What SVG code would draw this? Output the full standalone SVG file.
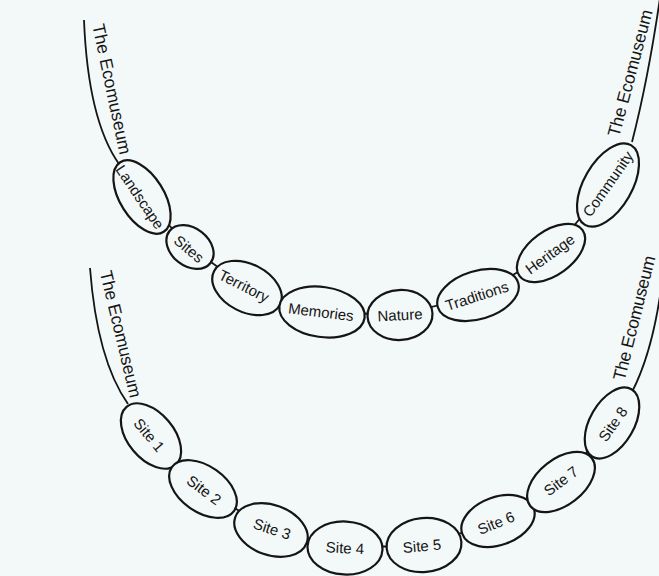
<svg xmlns="http://www.w3.org/2000/svg" width="659" height="576" viewBox="0 0 659 576">
<style>
.bg{fill:#f3f8f8}
.bead{fill:#f3f8f8;stroke:#151515;stroke-width:2.2}
.chain{fill:none;stroke:#151515;stroke-width:1.8}
.lbl{font-family:"Liberation Sans",Arial,sans-serif;font-size:15px;fill:#151515;text-anchor:middle}
.eco{font-family:"Liberation Sans",Arial,sans-serif;font-size:17.5px;fill:#151515;text-anchor:middle}
</style>
<rect class="bg" x="0" y="0" width="659" height="576"/>
<g id="connectors">
  <path class="chain" d="M84,20 Q88,120 119,164"/>
  <path class="chain" d="M632,142 Q648,80 660,-2"/>
  <polyline class="chain" points="142,197 190,247 247,288 322,312 400,315 478,295 551,253 608,185"/>
  <path class="chain" d="M90,268 Q97,360 128,404"/>
  <path class="chain" d="M632,392 Q651,355 660,296"/>
  <polyline class="chain" points="151,436 203,489 271,530 345,548 424,545 498,521 561,482 612,423"/>
</g>
<g id="title-top-left"><text class="eco" x="112" y="89" dy="0.35em" transform="rotate(78 112 89)" textLength="133" lengthAdjust="spacing">The Ecomuseum</text></g>
<g id="title-top-right"><text class="eco" x="630" y="73" dy="0.35em" transform="rotate(-75 630 73)" textLength="131" lengthAdjust="spacing">The Ecomuseum</text></g>
<g id="title-bottom-left"><text class="eco" x="121" y="334" dy="0.35em" transform="rotate(76.5 121 334)" textLength="130" lengthAdjust="spacing">The Ecomuseum</text></g>
<g id="title-bottom-right"><text class="eco" x="634" y="318" dy="0.35em" transform="rotate(-76 634 318)" textLength="128" lengthAdjust="spacing">The Ecomuseum</text></g>

<g id="landscape"><ellipse class="bead" cx="142" cy="197" rx="41" ry="22" transform="rotate(58 142 197)"/><text class="lbl" x="140" y="197" dy="0.35em" transform="rotate(56 140 197)">Landscape</text></g>
<g id="sites"><ellipse class="bead" cx="190" cy="247" rx="26" ry="19" transform="rotate(38 190 247)"/><text class="lbl" x="189" y="249" dy="0.35em" transform="rotate(40 189 249)">Sites</text></g>
<g id="territory"><ellipse class="bead" cx="247" cy="288" rx="37" ry="24" transform="rotate(27 247 288)"/><text class="lbl" x="244" y="286" dy="0.35em" transform="rotate(27 244 286)">Territory</text></g>
<g id="memories"><ellipse class="bead" cx="322" cy="312" rx="43" ry="25" transform="rotate(8 322 312)"/><text class="lbl" x="321" y="312" dy="0.35em" transform="rotate(7 321 312)">Memories</text></g>
<g id="nature"><ellipse class="bead" cx="400" cy="315" rx="32.5" ry="25" transform="rotate(-3 400 315)"/><text class="lbl" x="400" y="315" dy="0.35em" transform="rotate(-3 400 315)">Nature</text></g>
<g id="traditions"><ellipse class="bead" cx="478" cy="295" rx="42" ry="24" transform="rotate(-17 478 295)"/><text class="lbl" x="477" y="296" dy="0.35em" transform="rotate(-18 477 296)">Traditions</text></g>
<g id="heritage"><ellipse class="bead" cx="551" cy="253" rx="39" ry="22" transform="rotate(-36 551 253)"/><text class="lbl" x="550" y="254" dy="0.35em" transform="rotate(-36 550 254)">Heritage</text></g>
<g id="community"><ellipse class="bead" cx="608" cy="185" rx="46" ry="24" transform="rotate(-60 608 185)"/><text class="lbl" x="608" y="184" dy="0.35em" transform="rotate(-55 608 184)">Community</text></g>

<g id="site1"><ellipse class="bead" cx="151" cy="436" rx="38" ry="23" transform="rotate(50 151 436)"/><text class="lbl" x="149" y="435" dy="0.35em" transform="rotate(50 149 435)">Site 1</text></g>
<g id="site2"><ellipse class="bead" cx="203" cy="489" rx="38" ry="23" transform="rotate(35 203 489)"/><text class="lbl" x="204" y="490" dy="0.35em" transform="rotate(37 204 490)">Site 2</text></g>
<g id="site3"><ellipse class="bead" cx="271" cy="530" rx="38" ry="25" transform="rotate(20 271 530)"/><text class="lbl" x="272" y="529" dy="0.35em" transform="rotate(18 272 529)">Site 3</text></g>
<g id="site4"><ellipse class="bead" cx="345" cy="548" rx="37.5" ry="26.5" transform="rotate(3 345 548)"/><text class="lbl" x="345" y="548" dy="0.35em" transform="rotate(3 345 548)">Site 4</text></g>
<g id="site5"><ellipse class="bead" cx="424" cy="545" rx="37.5" ry="27" transform="rotate(-5 424 545)"/><text class="lbl" x="422" y="546" dy="0.35em" transform="rotate(-5 422 546)">Site 5</text></g>
<g id="site6"><ellipse class="bead" cx="498" cy="521" rx="38" ry="24" transform="rotate(-20 498 521)"/><text class="lbl" x="496" y="523" dy="0.35em" transform="rotate(-22 496 523)">Site 6</text></g>
<g id="site7"><ellipse class="bead" cx="561" cy="482" rx="39" ry="23" transform="rotate(-38 561 482)"/><text class="lbl" x="561" y="481" dy="0.35em" transform="rotate(-37 561 481)">Site 7</text></g>
<g id="site8"><ellipse class="bead" cx="612" cy="423" rx="39" ry="22" transform="rotate(-60 612 423)"/><text class="lbl" x="613" y="424" dy="0.35em" transform="rotate(-55 613 424)">Site 8</text></g>
</svg>
